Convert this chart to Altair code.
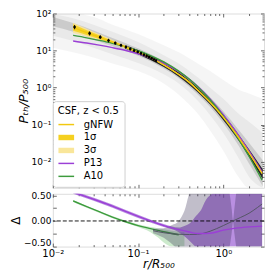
import altair as alt
import pandas as pd

# ---------------- values ----------------
R_CURVE = [0.0173, 0.025, 0.035, 0.05, 0.07, 0.1, 0.14, 0.2, 0.3, 0.4, 0.5, 0.7, 1.0, 1.4, 2.0, 2.85]
GNFW = [42, 30.5, 23.0, 17.0, 12.7, 9.1, 6.42, 4.12, 2.27, 1.39, 0.868, 0.406, 0.160, 0.0581, 0.0175, 0.00489]
A10 = [25.7, 22.1, 18.9, 15.75, 12.84, 9.9, 7.34, 4.95, 2.79, 1.68, 1.06, 0.471, 0.1685, 0.0547, 0.0142, 0.00323]
P13 = [18.2, 16.0, 14.0, 12.0, 10.2, 8.2, 6.39, 4.54, 2.70, 1.68, 1.086, 0.499, 0.1886, 0.0663, 0.0196, 0.00538]

SIG1_LO = [34, 26.3, 20.5, 15.7, 12.0, 8.75, 6.25, 4.04, 2.23, 1.365, 0.852, 0.398, 0.157, 0.057, 0.0171, 0.00478]
SIG1_HI = [51, 35.2, 25.8, 18.4, 13.4, 9.45, 6.6, 4.2, 2.31, 1.415, 0.884, 0.414, 0.163, 0.0592, 0.0179, 0.0050]
SIG3_LO = [30, 24, 19.2, 15.0, 11.6, 8.5, 6.12, 3.97, 2.19, 1.34, 0.837, 0.391, 0.154, 0.056, 0.0167, 0.00467]
SIG3_HI = [56, 38.5, 27.5, 19.3, 13.9, 9.75, 6.75, 4.28, 2.35, 1.44, 0.899, 0.421, 0.166, 0.0602, 0.0183, 0.00512]

R_PTS = [0.018, 0.027, 0.036, 0.045, 0.054, 0.063, 0.072, 0.081, 0.090, 0.099, 0.108, 0.117, 0.126, 0.135, 0.144, 0.153, 0.162]
P_PTS = [43, 29, 23, 18.6, 15.9, 13.9, 12.4, 11.1, 10.0, 9.2, 8.4, 7.7, 7.2, 6.7, 6.2, 5.75, 5.35]
P_LO = [37.5, 25.5, 20.4, 16.6, 14.3, 12.6, 11.3, 10.2, 9.2, 8.5, 7.8, 7.15, 6.7, 6.25, 5.8, 5.4, 5.03]
P_HI = [49, 33, 26, 20.8, 17.6, 15.3, 13.6, 12.1, 10.9, 9.95, 9.05, 8.3, 7.73, 7.18, 6.62, 6.12, 5.68]

HAZE_R = [0.01, 0.0173, 0.03, 0.05, 0.1, 0.2, 0.3, 0.5, 0.7, 1.0, 1.5, 2.0, 2.9]
OUT_LO = [12, 9, 6.5, 4.5, 2.8, 1.3, 0.65, 0.2, 0.07, 0.02, 0.004, 0.002, 0.002]
OUT_HI = [100, 100, 80, 50, 28, 14, 9, 4.5, 2.8, 1.6, 0.9, 0.7, 0.5]
MID_LO = [25, 18, 12, 8, 4.6, 2.3, 1.3, 0.45, 0.18, 0.06, 0.013, 0.004, 0.002]
MID_HI = [95, 75, 50, 32, 17, 7.5, 4.5, 1.9, 1.0, 0.5, 0.2, 0.12, 0.06]
INN_LO = [45, 32, 20, 13, 7.3, 3.3, 1.8, 0.66, 0.3, 0.11, 0.028, 0.009, 0.0022]
INN_HI = [80, 55, 35, 22, 11.5, 5.2, 2.9, 1.15, 0.55, 0.23, 0.075, 0.033, 0.011]

CORE_R = [0.07, 0.1, 0.2, 0.3, 0.5, 0.7, 1.0, 1.5, 2.0, 2.9]
CORE_LO = [11.4, 7.95, 3.6, 1.98, 0.755, 0.35, 0.133, 0.038, 0.0138, 0.0034]
CORE_HI = [14.2, 10.4, 4.75, 2.6, 1.0, 0.47, 0.19, 0.056, 0.022, 0.0063]

D_P13 = [0.56, 0.47, 0.385, 0.29, 0.19, 0.09, 0.0, -0.09, -0.17, -0.215, -0.245, -0.24, -0.18, -0.14, -0.115, -0.10]
D_A10_R = [0.0173, 0.025, 0.035, 0.05, 0.07, 0.1, 0.14, 0.2, 0.3]
D_A10 = [0.39, 0.28, 0.18, 0.075, -0.01, -0.09, -0.15, -0.21, -0.27]

PB_R = [0.0173, 0.05, 0.1, 0.2, 0.3, 0.35, 0.42, 0.48, 0.55, 0.62, 0.7, 0.75, 1.0, 2.85]
PB_LO = [0.53, 0.26, 0.06, -0.12, -0.22, -0.3, -0.42, -0.5, -0.5, -0.5, -0.5, -0.5, -0.5, -0.5]
PB_HI = [0.59, 0.32, 0.12, -0.06, -0.13, -0.1, -0.02, 0.1, 0.22, 0.4, 0.5, 0.53, 0.53, 0.53]

GB_R = [0.0173, 0.05, 0.1, 0.14, 0.17, 0.2, 0.25, 0.3, 0.35]
GB_LO = [0.37, 0.055, -0.12, -0.22, -0.32, -0.42, -0.5, -0.5, -0.5]
GB_HI = [0.41, 0.095, -0.065, -0.12, -0.14, -0.16, -0.19, -0.21, -0.22]

SIM_R = [0.15, 0.2, 0.3, 0.4, 0.5, 0.7, 1.0, 1.3, 1.6, 2.0, 2.5, 2.85]
SIM_D = [-0.19, -0.23, -0.26, -0.265, -0.26, -0.2, -0.09, 0.0, 0.07, 0.15, 0.26, 0.33]
SB_R = [0.15, 0.2, 0.25, 0.3, 0.35, 0.42, 0.5, 1.0, 1.15, 1.25, 1.3, 1.35, 1.45, 2.85]
SB_LO = [-0.24, -0.33, -0.45, -0.55, -0.55, -0.55, -0.55, -0.55, -0.55, -0.25, -0.02, -0.25, -0.55, -0.55]
SB_HI = [-0.15, -0.14, -0.08, 0.0, 0.2, 0.6, 0.6, 0.6, 0.6, 0.25, 0.02, 0.25, 0.6, 0.6]

SERIES = ["gNFW", "1σ", "3σ", "P13", "A10"]
COLORS = ["#f2c80f", "#f5d020", "#f9e69a", "#9b3fd6", "#3d9b3d"]

X_MAJOR = [0.01, 0.1, 1.0]
X_MINOR = [0.02, 0.03, 0.04, 0.05, 0.06, 0.07, 0.08, 0.09,
           0.2, 0.3, 0.4, 0.5, 0.6, 0.7, 0.8, 0.9, 2.0]
Y_MAJOR = [0.01, 0.1, 1.0, 10.0, 100.0]
Y_MINOR = [0.003, 0.004, 0.005, 0.006, 0.007, 0.008, 0.009,
           0.02, 0.03, 0.04, 0.05, 0.06, 0.07, 0.08, 0.09,
           0.2, 0.3, 0.4, 0.5, 0.6, 0.7, 0.8, 0.9,
           2, 3, 4, 5, 6, 7, 8, 9, 20, 30, 40, 50, 60, 70, 80, 90]
D_MAJOR = [-0.5, -0.25, 0.0, 0.25, 0.5]

# ---------------- layout / style ----------------
W, H1, H2 = 212, 175, 53
TICK = "#444444"
FS = 9

xs_t = alt.Scale(type="log", domain=[0.01, 3.0], nice=False)
ys_t = alt.Scale(type="log", domain=[0.002, 100], nice=False)
xs_b = alt.Scale(type="log", domain=[0.01, 3.0], nice=False)
ys_b = alt.Scale(domain=[-0.5, 0.53], nice=False, zero=False)
cscale = alt.Scale(domain=SERIES, range=COLORS)


def tk(orient, offset, values, size):
    return alt.Axis(orient=orient, offset=offset, values=values, labels=False, domain=False,
                    ticks=True, tickSize=size, tickColor=TICK, tickWidth=0.8, grid=False, title=None)


def band(df, lo, hi, color, opacity, xsc, ysc, xax=None, yax=None):
    return alt.Chart(df).mark_area(color=color, opacity=opacity, clip=True,
                                   interpolate="monotone").encode(
        x=alt.X("r:Q", scale=xsc, axis=xax),
        y=alt.Y(f"{lo}:Q", scale=ysc, axis=yax),
        y2=f"{hi}:Q")


# ---------------- top panel ----------------
haze = pd.DataFrame({"r": HAZE_R, "olo": OUT_LO, "ohi": OUT_HI, "mlo": MID_LO, "mhi": MID_HI,
                     "ilo": INN_LO, "ihi": INN_HI})
core = pd.DataFrame({"r": CORE_R, "lo": CORE_LO, "hi": CORE_HI})
n = len(R_CURVE)
sig = pd.DataFrame({"r": R_CURVE * 2, "lo": SIG3_LO + SIG1_LO, "hi": SIG3_HI + SIG1_HI,
                    "series": ["3σ"] * n + ["1σ"] * n, "order": [0] * n + [1] * n})
lines = pd.DataFrame({
    "r": R_CURVE * 3,
    "P": P13 + A10 + GNFW,
    "series": ["P13"] * n + ["A10"] * n + ["gNFW"] * n,
    "order": [0] * n + [1] * n + [2] * n,
})
pts = pd.DataFrame({"r": R_PTS, "P": P_PTS, "lo": P_LO, "hi": P_HI})

y_lab_top = alt.Axis(orient="left", values=Y_MAJOR, ticks=False, tickSize=0, domain=False, grid=False,
                     labelExpr="datum.value > 50 ? '10²' : datum.value > 5 ? '10¹' : datum.value > 0.5 ? '10⁰' : datum.value > 0.05 ? '10⁻¹' : '10⁻²'",
                     labelFontSize=FS, labelPadding=2, labelColor="black", labelFlush=False,
                     title="Pₜₕ/P₅₀₀", titleFontSize=13, titleFontStyle="italic",
                     titleFontWeight="normal", titlePadding=1, titleColor="black")

shape_expr = ("(datum.value == '1σ' || datum.value == '3σ') ? 'M-1.5,-0.52H1.5V0.52H-1.5Z' : 'M-1.5,-0.14H1.5V0.14H-1.5Z'")

legend = alt.Legend(orient="none", legendX=0, legendY=88, title="CSF, z < 0.5",
                    titleFontSize=10, titleFontWeight="normal", titleColor="black", titlePadding=3,
                    labelFontSize=10, labelColor="black", labelOffset=12, symbolSize=110, symbolOffset=3,
                    symbolType={"expr": shape_expr}, symbolStrokeWidth=0, symbolOpacity=1,
                    rowPadding=2, padding=5, fillColor="white", strokeColor="#d0d0d0", cornerRadius=3)

top = alt.layer(
    band(haze, "olo", "ohi", "#777777", 0.07, xs_t, ys_t, tk("bottom", -H1, X_MAJOR, 3.5), y_lab_top),
    band(haze, "mlo", "mhi", "#777777", 0.09, xs_t, ys_t, tk("top", -H1, X_MAJOR, 3.5), tk("right", -W, Y_MAJOR, 3.5)),
    band(haze, "ilo", "ihi", "#555555", 0.2, xs_t, ys_t, tk("top", -H1, X_MINOR, 2), tk("left", -W, Y_MAJOR, 3.5)),
    band(core, "lo", "hi", "#111111", 0.88, xs_t, ys_t, tk("bottom", -H1, X_MINOR, 2), tk("right", -W, Y_MINOR, 2)),
    alt.Chart(sig).mark_area(opacity=0.9, clip=True, interpolate="monotone").encode(
        x=alt.X("r:Q", scale=xs_t, axis=None),
        y=alt.Y("lo:Q", scale=ys_t, axis=tk("left", -W, Y_MINOR, 2), stack=None),
        y2="hi:Q",
        color=alt.Color("series:N", scale=cscale, legend=legend),
        order="order:Q",
        detail="series:N"),
    alt.Chart(lines).mark_line(strokeWidth=1.4, clip=True, interpolate="monotone").encode(
        x=alt.X("r:Q", scale=xs_t, axis=None),
        y=alt.Y("P:Q", scale=ys_t, axis=None),
        color=alt.Color("series:N", scale=cscale, legend=None),
        order="order:Q",
        detail="series:N"),
    alt.Chart(pts).mark_rule(color="black", strokeWidth=0.9).encode(
        x=alt.X("r:Q", scale=xs_t, axis=None),
        y=alt.Y("lo:Q", scale=ys_t, axis=None),
        y2="hi:Q"),
    alt.Chart(pts).mark_circle(color="black", size=7, opacity=1).encode(
        x=alt.X("r:Q", scale=xs_t, axis=None),
        y=alt.Y("P:Q", scale=ys_t, axis=None)),
).resolve_axis(x="independent", y="independent").properties(width=W, height=H1)

# ---------------- bottom panel ----------------
pband = pd.DataFrame({"r": PB_R, "lo": PB_LO, "hi": PB_HI})
gband = pd.DataFrame({"r": GB_R, "lo": GB_LO, "hi": GB_HI})
sband = pd.DataFrame({"r": SB_R, "lo": SB_LO, "hi": SB_HI})
p13d = pd.DataFrame({"r": R_CURVE, "d": D_P13})
a10d = pd.DataFrame({"r": D_A10_R, "d": D_A10})
simd = pd.DataFrame({"r": SIM_R, "d": SIM_D})
zero = pd.DataFrame({"d": [0.0]})

x_lab_bot = alt.Axis(orient="bottom", values=X_MAJOR, ticks=False, tickSize=0, domain=False, grid=False,
                     labelExpr="datum.value < 0.05 ? '10⁻²' : datum.value < 0.5 ? '10⁻¹' : '10⁰'",
                     labelFontSize=FS + 1, labelPadding=2, labelColor="black", labelFlush=False,
                     title="r/R₅₀₀", titleFontSize=12, titleFontStyle="italic", titleFontWeight="normal",
                     titlePadding=0, titleColor="black")
y_lab_bot = alt.Axis(orient="left", values=D_MAJOR, ticks=False, tickSize=0, domain=False, grid=False,
                     format=".2f", labelFontSize=FS, labelPadding=2, labelColor="black",
                     labelFlush=True, labelFlushOffset=1,
                     title="Δ", titleFontSize=12, titleFontWeight="normal", titlePadding=1, titleColor="black")


def dline(df, color, width, xax=None):
    return alt.Chart(df).mark_line(color=color, strokeWidth=width, clip=True, interpolate="monotone").encode(
        x=alt.X("r:Q", scale=xs_b, axis=xax),
        y=alt.Y("d:Q", scale=ys_b, axis=None))


bottom = alt.layer(
    band(gband, "lo", "hi", "#8fd18f", 0.45, xs_b, ys_b, x_lab_bot, y_lab_bot),
    alt.Chart(a10d).mark_line(color="#3d9b3d", strokeWidth=1.4, clip=True, interpolate="monotone").encode(
        x=alt.X("r:Q", scale=xs_b, axis=tk("top", -H2, X_MAJOR, 3.5)),
        y=alt.Y("d:Q", scale=ys_b, axis=tk("right", -W, D_MAJOR, 3.5))),
    band(pband, "lo", "hi", "#9353d1", 0.65, xs_b, ys_b, tk("bottom", -H2, X_MAJOR, 3.5), tk("left", -W, D_MAJOR, 3.5)),
    band(sband, "lo", "hi", "#322850", 0.3, xs_b, ys_b, tk("top", -H2, X_MINOR, 2)),
    alt.Chart(zero).mark_rule(color="black", strokeWidth=0.9, strokeDash=[4, 2]).encode(
        y=alt.Y("d:Q", scale=ys_b, axis=None)),
    dline(simd, "#555566", 1.0, tk("bottom", -H2, X_MINOR, 2)),
    dline(p13d, "#9b3fd6", 1.4),
).resolve_axis(x="independent", y="independent").properties(width=W, height=H2)

chart = alt.vconcat(top, bottom, spacing=2).resolve_scale(color="independent").resolve_legend(
    color="independent").properties(padding=0).configure_view(stroke="#777777", strokeWidth=1).configure(
    font="DejaVu Sans")

chart.save("out.html", embed_options={"renderer": "svg", "actions": False})
